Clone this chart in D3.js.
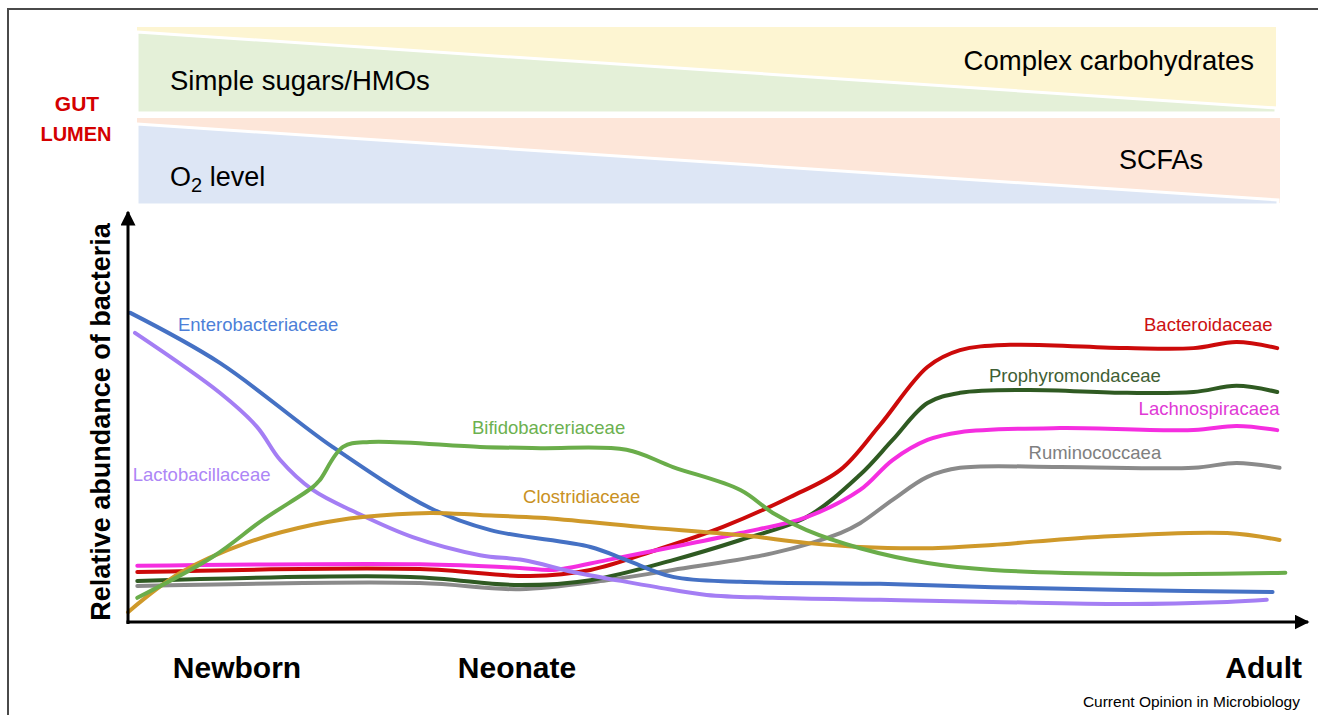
<!DOCTYPE html>
<html>
<head>
<meta charset="utf-8">
<script src="https://cdn.jsdelivr.net/npm/d3@7"></script>
<style>
  body { margin: 0; background: #fff; }
  svg { display: block; font-family: "Liberation Sans", Arial, sans-serif; }
</style>
</head>
<body>
<div id="chart"></div>
<script>
// ---- data (time 0..100, abundance 0..100) ----
const enteroT = [0.2, 7.9, 17.6, 26.0, 31.2, 39.8, 42.9, 46.9, 52.7, 64.7, 74.4, 86.0, 98.5];
const enteroV = [75.4, 63.2, 42.7, 27.8, 22.4, 18.3, 15.1, 11.0, 9.8, 9.3, 8.5, 7.8, 7.3];

const lactoT = [0.6, 7.9, 11.1, 13.1, 15.9, 19.7, 24.5, 30.3, 34.0, 38.3, 42.1, 45.5, 49.8, 55.5, 64.7, 74.4, 86.0, 94.6, 98.0];
const lactoV = [70.5, 55.9, 47.6, 39.5, 32.2, 26.6, 20.7, 16.3, 15.1, 12.2, 10.2, 8.5, 6.6, 5.9, 5.4, 4.9, 4.4, 4.9, 5.4];

const bifidoT = [0.8, 7.3, 11.6, 15.9, 16.5, 18.5, 20.8, 30.3, 35.5, 42.9, 46.9, 52.7, 55.5, 58.4, 63.0, 68.8, 74.4, 86.0, 99.6];
const bifidoV = [5.9, 15.9, 24.9, 32.9, 34.6, 42.7, 43.9, 42.7, 42.4, 42.0, 37.8, 32.2, 26.6, 22.4, 18.0, 14.4, 12.7, 11.7, 12.0];

const clostT = [0, 4.5, 10.2, 15.9, 20.2, 26.0, 30.3, 35.5, 44.1, 52.7, 58.4, 63.0, 68.8, 74.4, 83.0, 94.6, 99.1];
const clostV = [2.4, 12.0, 19.3, 23.7, 25.6, 26.6, 26.1, 25.4, 23.2, 21.2, 19.3, 18.3, 18.0, 18.8, 20.7, 21.7, 20.0];

const bactT = [0.8, 25.1, 34.6, 39.8, 45.5, 51.2, 57.0, 61.3, 64.7, 68.8, 71.6, 75.9, 86.0, 91.7, 95.4, 98.9];
const bactV = [12.2, 12.9, 11.2, 12.7, 17.6, 23.2, 30.5, 37.1, 48.0, 62.2, 66.3, 67.6, 66.8, 66.8, 68.3, 66.8];

const prophT = [0.8, 24.3, 33.7, 39.8, 46.9, 52.7, 58.4, 63.0, 65.8, 68.8, 71.6, 77.4, 86.0, 91.7, 95.4, 98.9];
const prophV = [10.0, 11.0, 9.0, 10.2, 15.1, 20.0, 25.6, 35.9, 44.4, 53.4, 55.9, 56.6, 55.9, 56.1, 57.6, 56.1];

const lachT = [0.8, 25.1, 33.7, 36.6, 41.2, 46.9, 52.7, 58.4, 63.0, 65.8, 68.8, 71.6, 80.2, 91.7, 95.4, 98.9];
const lachV = [13.7, 14.1, 13.2, 12.7, 15.1, 18.3, 21.7, 25.6, 32.2, 39.5, 44.4, 46.3, 47.3, 46.8, 47.8, 46.8];

const rumiT = [0.8, 25.1, 33.7, 41.2, 46.9, 55.5, 61.3, 63.0, 65.8, 68.8, 71.6, 80.2, 91.7, 95.4, 99.1];
const rumiV = [8.8, 9.5, 8.0, 10.2, 12.7, 16.8, 21.7, 24.1, 29.8, 35.4, 37.6, 37.8, 37.6, 38.8, 37.6];

const seriesNames = ["Ruminococcaea", "Prophyromondaceae", "Bacteroidaceae", "Lachnospiracaea",
                     "Lactobacillaceae", "Enterobacteriaceae", "Clostridiaceae", "Bifidobacreriaceae"];
const stageLabels = ["Newborn", "Neonate", "Adult"];

// ---- layout ----
const width = 1318, height = 715;
const svg = d3.select("#chart").append("svg")
  .attr("width", width)
  .attr("height", height);

const x = d3.scaleLinear().domain([0, 100]).range([128, 1290]);
const y = d3.scaleLinear().domain([0, 100]).range([622, 212]);

// series styles (colour of line, colour of label, label anchor in data units)
const styles = {
  "Enterobacteriaceae": { t: enteroT, v: enteroV, line: "#4571c4", text: "#4d7fd8", lt: 4.3, lv: 71.0, anchor: "start" },
  "Lactobacillaceae":   { t: lactoT, v: lactoV, line: "#a47ef4", text: "#ad86f6", lt: 0.4, lv: 34.4, anchor: "start" },
  "Bifidobacreriaceae": { t: bifidoT, v: bifidoV, line: "#6aad4a", text: "#6cb14f", lt: 29.6, lv: 45.9, anchor: "start" },
  "Clostridiaceae":     { t: clostT, v: clostV, line: "#cf992a", text: "#c99123", lt: 34.0, lv: 29.0, anchor: "start" },
  "Bacteroidaceae":     { t: bactT, v: bactV, line: "#cc0a0a", text: "#cc1111", lt: 98.5, lv: 71.0, anchor: "end" },
  "Prophyromondaceae":  { t: prophT, v: prophV, line: "#2f5a22", text: "#3f5f35", lt: 74.1, lv: 58.5, anchor: "start" },
  "Lachnospiracaea":    { t: lachT, v: lachV, line: "#f52ee0", text: "#e03ad5", lt: 99.1, lv: 50.5, anchor: "end" },
  "Ruminococcaea":      { t: rumiT, v: rumiV, line: "#8a8a8a", text: "#808080", lt: 77.5, lv: 39.8, anchor: "start" }
};

// ---- frame ----
svg.append("line").attr("x1", 7).attr("x2", width).attr("y1", 9).attr("y2", 9)
  .attr("stroke", "#4a4a4a").attr("stroke-width", 2);
svg.append("line").attr("x1", 8).attr("x2", 8).attr("y1", 9).attr("y2", height)
  .attr("stroke", "#4a4a4a").attr("stroke-width", 2);

// ---- gut lumen gradients (bands) ----
const bands = svg.append("g");
bands.append("rect").attr("x", 137).attr("y", 27).attr("width", 1139).attr("height", 86).attr("fill", "#fdf5d2");
bands.append("polygon").attr("points", "137,32 1276,108 1276,113 137,113")
  .attr("fill", "#e4f0d8").attr("stroke", "#fff").attr("stroke-width", 3);
bands.append("rect").attr("x", 137).attr("y", 118).attr("width", 1143).attr("height", 85).attr("fill", "#fde6d9");
bands.append("polygon").attr("points", "137,124 1278,200 1278,205 137,205")
  .attr("fill", "#dde6f5").attr("stroke", "#fff").attr("stroke-width", 3);

bands.append("text").attr("x", 170).attr("y", 90).attr("font-size", 27.5).text("Simple sugars/HMOs");
bands.append("text").attr("x", 1254).attr("y", 70).attr("font-size", 27.5).attr("text-anchor", "end").text("Complex carbohydrates");
bands.append("text").attr("x", 1203).attr("y", 169).attr("font-size", 27).attr("text-anchor", "end").text("SCFAs");
const o2 = bands.append("text").attr("x", 170).attr("y", 186).attr("font-size", 27);
o2.append("tspan").text("O");
o2.append("tspan").attr("font-size", 20).attr("dy", 6).text("2");
o2.append("tspan").attr("dy", -6).text(" level");

svg.append("text").attr("x", 77).attr("y", 111).attr("text-anchor", "middle")
  .attr("font-size", 21).attr("font-weight", "bold").attr("fill", "#d40000").text("GUT");
svg.append("text").attr("x", 76).attr("y", 141).attr("text-anchor", "middle")
  .attr("font-size", 20).attr("font-weight", "bold").attr("fill", "#d40000").text("LUMEN");

// ---- curves ----
const line = d3.line()
  .x(d => x(d[0]))
  .y(d => y(d[1]))
  .curve(d3.curveCatmullRom.alpha(0.5));

seriesNames.forEach(name => {
  const s = styles[name];
  const pts = s.t.map((t, i) => [t, s.v[i]]);
  svg.append("path")
    .attr("d", line(pts))
    .attr("fill", "none")
    .attr("stroke", s.line)
    .attr("stroke-width", 4)
    .attr("stroke-linecap", "round");
});

seriesNames.forEach(name => {
  const s = styles[name];
  svg.append("text")
    .attr("x", x(s.lt))
    .attr("y", y(s.lv))
    .attr("text-anchor", s.anchor)
    .attr("font-size", 18.5)
    .attr("fill", s.text)
    .text(name);
});

// ---- axes with arrows ----
const defs = svg.append("defs");
defs.append("marker").attr("id", "arrow")
  .attr("viewBox", "0 0 10 10").attr("refX", 9).attr("refY", 5)
  .attr("markerWidth", 5).attr("markerHeight", 5).attr("markerUnits", "strokeWidth")
  .attr("orient", "auto")
  .append("path").attr("d", "M0,0 L10,5 L0,10 Z").attr("fill", "#000");

const yAxis = svg.append("g").attr("transform", `translate(${x(0)},0)`)
  .call(d3.axisLeft(y).tickValues([]).tickSizeOuter(0));
yAxis.select(".domain").attr("stroke", "#000").attr("stroke-width", 3)
  .attr("d", `M0,${y(0) + 2}V${y(100)}`).attr("marker-end", "url(#arrow)");

const xAxis = svg.append("g").attr("transform", `translate(0,${y(0)})`)
  .call(d3.axisBottom(x).tickValues([]).tickSizeOuter(0));
xAxis.select(".domain").attr("stroke", "#000").attr("stroke-width", 3)
  .attr("d", `M${x(0) - 1.5},0H1308`).attr("marker-end", "url(#arrow)");

svg.append("text")
  .attr("transform", `translate(110,${(y(0) + y(100)) / 2 + 5}) rotate(-90)`)
  .attr("text-anchor", "middle")
  .attr("font-size", 27).attr("font-weight", "bold")
  .text("Relative abundance of bacteria");

// ---- life stages ----
const stageX = [237, 517, 1302];
const stageAnchor = ["middle", "middle", "end"];
stageLabels.forEach((lab, i) => {
  svg.append("text").attr("x", stageX[i]).attr("y", 678)
    .attr("text-anchor", stageAnchor[i])
    .attr("font-size", 30).attr("font-weight", "bold")
    .text(lab);
});

svg.append("text").attr("x", 1300).attr("y", 707).attr("text-anchor", "end")
  .attr("font-size", 15.5).text("Current Opinion in Microbiology");
</script>
</body>
</html>
